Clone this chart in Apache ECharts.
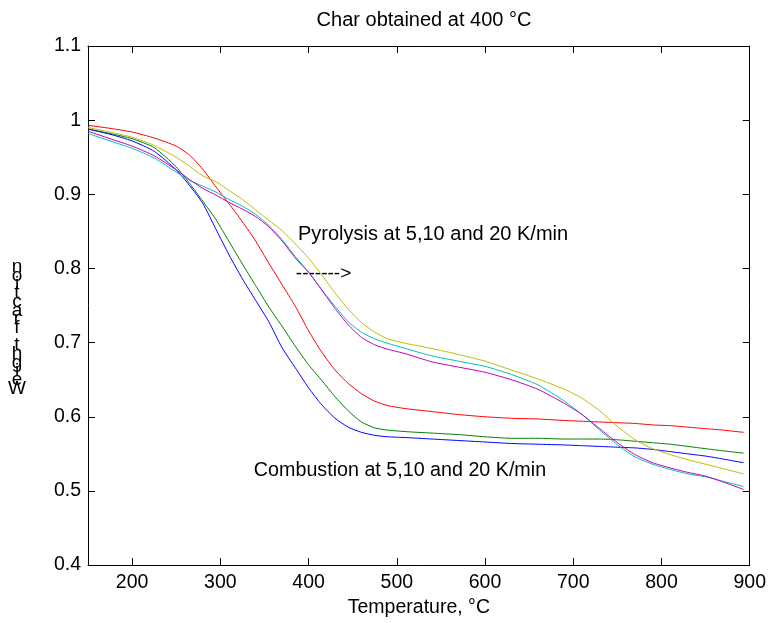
<!DOCTYPE html>
<html>
<head>
<meta charset="utf-8">
<script src="https://cdn.jsdelivr.net/npm/echarts@6/dist/echarts.min.js"></script>
<style>html,body{margin:0;padding:0;background:#fff}#c{width:769px;height:623px}</style>
</head>
<body>
<div id="c"></div>
<script>
const temperature = [150,175,200,225,250,265,280,295,310,325,340,355,370,385,400,415,430,445,460,475,490,510,540,570,600,630,660,690,710,730,750,770,790,810,830,850,870,893];
const combustionRed   = [0.993,0.989,0.984,0.976,0.965,0.953,0.934,0.910,0.887,0.863,0.837,0.807,0.778,0.749,0.716,0.687,0.663,0.645,0.631,0.621,0.615,0.611,0.607,0.603,0.600,0.598,0.597,0.595,0.594,0.593,0.592,0.591,0.589,0.588,0.586,0.584,0.582,0.579];
const combustionGreen = [0.988,0.982,0.975,0.963,0.937,0.915,0.891,0.866,0.836,0.806,0.777,0.748,0.722,0.695,0.670,0.649,0.627,0.608,0.593,0.585,0.582,0.580,0.578,0.576,0.573,0.571,0.571,0.570,0.570,0.570,0.569,0.567,0.565,0.563,0.560,0.557,0.554,0.551];
const combustionBlue  = [0.988,0.981,0.972,0.958,0.933,0.912,0.888,0.853,0.818,0.786,0.757,0.728,0.693,0.666,0.639,0.616,0.598,0.586,0.579,0.575,0.573,0.572,0.570,0.568,0.566,0.564,0.563,0.562,0.561,0.560,0.559,0.558,0.556,0.553,0.550,0.547,0.543,0.538];
const pyrolysisYellow = [0.990,0.984,0.977,0.966,0.950,0.938,0.925,0.917,0.905,0.893,0.879,0.865,0.851,0.833,0.814,0.791,0.767,0.745,0.727,0.714,0.705,0.699,0.692,0.684,0.675,0.663,0.651,0.637,0.625,0.608,0.587,0.569,0.557,0.549,0.542,0.536,0.530,0.523];
const pyrolysisCyan   = [0.982,0.972,0.962,0.949,0.930,0.919,0.911,0.903,0.893,0.884,0.873,0.858,0.839,0.816,0.795,0.771,0.749,0.728,0.714,0.705,0.699,0.692,0.682,0.675,0.668,0.657,0.643,0.621,0.603,0.582,0.562,0.546,0.536,0.529,0.523,0.519,0.513,0.506];
const pyrolysisMagenta= [0.985,0.975,0.965,0.952,0.933,0.920,0.908,0.899,0.889,0.880,0.870,0.856,0.837,0.814,0.795,0.771,0.746,0.724,0.707,0.697,0.691,0.685,0.674,0.667,0.660,0.650,0.637,0.618,0.603,0.584,0.565,0.549,0.538,0.531,0.525,0.520,0.512,0.502];
const xTicks = [200,300,400,500,600,700,800,900];
const yTicks = [0.4,0.5,0.6,0.7,0.8,0.9,1.0,1.1];

const FONT = 'Liberation Sans, Arial, Helvetica, sans-serif';
const seriesDefs = [
  {name:'Red', data: combustionRed, color:'#ff0000'},
  {name:'Green', data: combustionGreen, color:'#008000'},
  {name:'Blue', data: combustionBlue, color:'#0000ff'},
  {name:'Yellow', data: pyrolysisYellow, color:'#bfbf00'},
  {name:'Cyan', data: pyrolysisCyan, color:'#00bfbf'},
  {name:'Magenta', data: pyrolysisMagenta, color:'#bf00bf'}
];

const chart = echarts.init(document.getElementById('c'), null, {renderer:'canvas'});
const axisLine = {show:true, lineStyle:{color:'#000', width:1}};
const option = {
  animation:false,
  backgroundColor:'#fff',
  title:{text:'Char obtained at 400 °C', left:419, top:5, textAlign:'center',
    textStyle:{fontFamily:FONT, fontSize:20, fontWeight:'normal', color:'#000'}},
  grid:{left:88, right:19, top:46, bottom:53, containLabel:false},
  xAxis:[
    {type:'value', min:150, max:900, position:'bottom', axisLine,
     axisTick:{show:true, inside:true, length:7, customValues:xTicks, lineStyle:{color:'#000'}},
     axisLabel:{customValues:xTicks, fontFamily:FONT, fontSize:19.5, color:'#000', margin:8},
     splitLine:{show:false},
     name:'Temperature, °C', nameLocation:'middle', nameGap:31,
     nameTextStyle:{fontFamily:FONT, fontSize:19.5, color:'#000'}},
    {type:'value', min:150, max:900, position:'top', axisLine,
     axisTick:{show:true, inside:true, length:7, customValues:xTicks, lineStyle:{color:'#000'}},
     axisLabel:{show:false}, splitLine:{show:false}}
  ],
  yAxis:[
    {type:'value', min:0.4, max:1.1, position:'left', axisLine,
     axisTick:{show:true, inside:true, length:7, customValues:yTicks, lineStyle:{color:'#000'}},
     axisLabel:{customValues:yTicks, fontFamily:FONT, fontSize:19.5, color:'#000', margin:7,
       formatter:v=>String(Math.round(v*10)/10)},
     splitLine:{show:false}},
    {type:'value', min:0.4, max:1.1, position:'right', axisLine,
     axisTick:{show:true, inside:true, length:7, customValues:yTicks, lineStyle:{color:'#000'}},
     axisLabel:{show:false}, splitLine:{show:false}}
  ],
  series: seriesDefs.map(s=>({
    type:'line', name:s.name, xAxisIndex:0, yAxisIndex:0,
    data: temperature.map((t,i)=>[t, s.data[i]]),
    showSymbol:false, smooth:0.2, lineStyle:{color:s.color, width:1}, itemStyle:{color:s.color}
  }))
};
chart.setOption(option);

const p1 = chart.convertToPixel({xAxisIndex:0, yAxisIndex:0}, [388, 0.846]);
const p2 = chart.convertToPixel({xAxisIndex:0, yAxisIndex:0}, [338, 0.528]);
const p3 = chart.convertToPixel({xAxisIndex:0, yAxisIndex:0}, [385.6, 0.793]);
const txt = (x,y,t,fs)=>({type:'text', x, y, style:{text:t, fill:'#000', font:fs+'px '+FONT, textAlign:'left', textVerticalAlign:'middle'}});
chart.setOption({graphic:[
  txt(p1[0], p1[1], 'Pyrolysis at 5,10 and 20 K/min', 20),
  txt(p2[0], p2[1], 'Combustion at 5,10 and 20 K/min', 19.7),
  txt(p3[0], p3[1], '------->', 19),
  {type:'text', x:17, y:393, style:{text:'Weight fraction'.split('').reverse().join('\n'), fill:'#000',
    font:'19px '+FONT, textAlign:'center', textVerticalAlign:'bottom', lineHeight:8.7}}
]});
</script>
</body>
</html>
